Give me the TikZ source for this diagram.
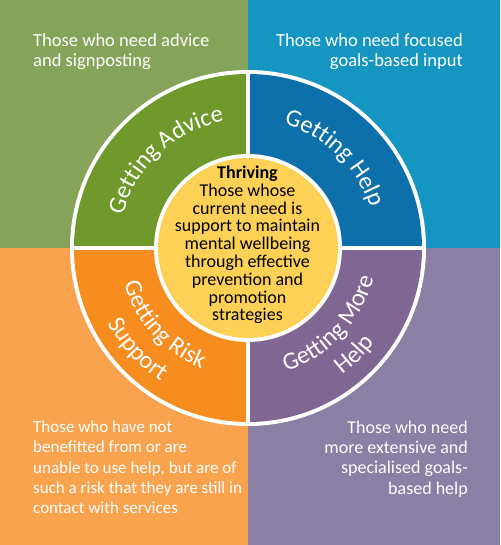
\documentclass[tikz,border=0pt]{standalone}
\usepackage{fontspec}
\setmainfont{Carlito}
\usetikzlibrary{decorations.text}
\definecolor{greenbg}{HTML}{86A459}
\definecolor{greenseg}{HTML}{6F9A2B}
\definecolor{bluebg}{HTML}{1596C2}
\definecolor{blueseg}{HTML}{0E70AB}
\definecolor{orangebg}{HTML}{F9A34E}
\definecolor{orangeseg}{HTML}{F78D1E}
\definecolor{purplebg}{HTML}{8A7FA4}
\definecolor{purpleseg}{HTML}{806692}
\definecolor{yellowc}{HTML}{FDD156}
\newcommand\ringfont{\fontsize{24.5}{24.5}\selectfont\color{white}}
\tikzset{
  quadtext/.style={text=white, inner sep=0pt, font=\fontsize{18.5}{20.3}\selectfont},
  ringtext/.style={decorate, decoration={text along path, text align=center, text={|\ringfont|#1}}},
}
\begin{document}
\begin{tikzpicture}[x=1pt,y=1pt]
\useasboundingbox (0,0) rectangle (500,545);
\coordinate (C) at (248,297);
\fill[greenbg] (0,297) rectangle (248,545);
\fill[bluebg] (248,297) rectangle (500,545);
\fill[orangebg] (0,0) rectangle (248,297);
\fill[purplebg] (248,0) rectangle (500,297);
\begin{scope}[shift={(C)}]
  \fill[white] (0,0) circle[radius=178];
  \fill[greenseg] (0,0) -- (180:174) arc[start angle=180,end angle=90,radius=174] -- cycle;
  \fill[blueseg] (0,0) -- (90:174) arc[start angle=90,end angle=0,radius=174] -- cycle;
  \fill[purpleseg] (0,0) -- (0:174) arc[start angle=0,end angle=-90,radius=174] -- cycle;
  \fill[orangeseg] (0,0) -- (-90:174) arc[start angle=-90,end angle=-180,radius=174] -- cycle;
  \draw[white,line width=4] (-176,0) -- (176,0) (0,-176) -- (0,176);
  \fill[white] (0,0) circle[radius=94];
  \fill[yellowc] (0,0) circle[radius=90];
  \path[ringtext={Getting Advice}] (178:129) arc[start angle=178,end angle=88,radius=129];
  \path[ringtext={Getting Help}] (92:129) arc[start angle=92,end angle=0,radius=129];
  \path[ringtext={Getting Risk}] (177:129) arc[start angle=177,end angle=268,radius=129];
  \path[ringtext={Support}] (177:159) arc[start angle=177,end angle=268,radius=159];
  \path[ringtext={Getting More}] (272:129) arc[start angle=272,end angle=362,radius=129];
  \path[ringtext={Help}] (270:158) arc[start angle=270,end angle=360,radius=158];
\end{scope}
\node[align=center, inner sep=0pt, font=\fontsize{18}{17.8}\selectfont, text=black] (thriving) at (247.5,300)
  {\textbf{Thriving}\\Those whose\\current need is\\support to maintain\\mental wellbeing\\through effective\\prevention and\\promotion\\strategies};
\node[quadtext, align=left, anchor=north west] (advice) at (33,512) {Those who need advice\\and signposting};
\node[quadtext, align=right, anchor=north east] (help) at (463,512) {Those who need focused\\goals-based input};
\node[quadtext, align=left, anchor=north west, font=\fontsize{17}{20.3}\selectfont] (risk) at (33,124.5)
  {Those who have not\\benefitted from or are\\unable to use help, but are of\\such a risk that they are still in\\contact with services};
\node[quadtext, align=right, anchor=north east, font=\fontsize{18}{20.3}\selectfont] (more) at (468,124.5)
  {Those who need\\more extensive and\\specialised goals-\\based help};
\end{tikzpicture}
\end{document}
